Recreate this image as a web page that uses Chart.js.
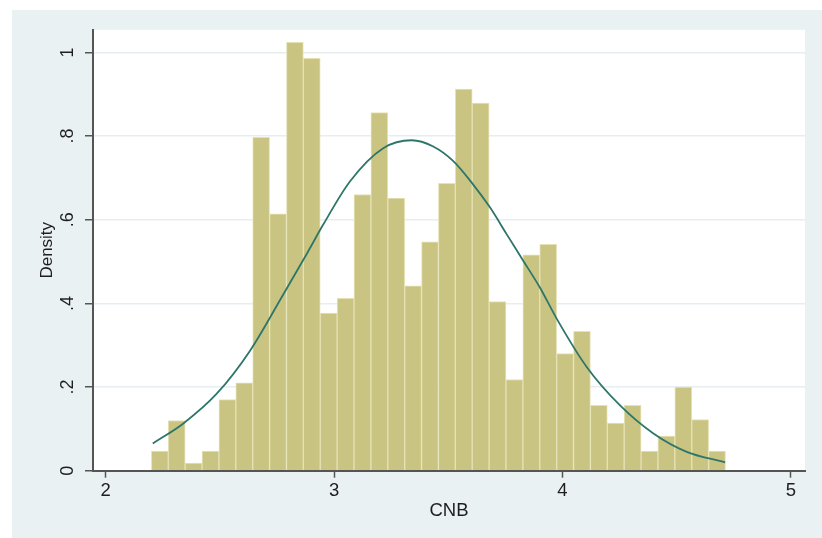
<!DOCTYPE html>
<html>
<head>
<meta charset="utf-8">
<script src="https://cdn.jsdelivr.net/npm/chart.js@4"></script>
<style>
    body { margin: 0; background: #ffffff; }
    #wrap { position: absolute; left: 12px; top: 10px; width: 810px; height: 528px; background: #eaf1f3; }
</style>
</head>
<body>
<div id="wrap"><canvas id="hist-chart" width="810" height="528"></canvas></div>
<script>
//Histogram data (density per bin)
const binStart = 2.2;
const binWidth = 0.07393;
const densities = [0.047, 0.120, 0.018, 0.047, 0.170, 0.210, 0.797, 0.614, 1.024, 0.986,
                   0.377, 0.412, 0.660, 0.856, 0.652, 0.442, 0.547, 0.687, 0.912, 0.879,
                   0.404, 0.218, 0.516, 0.541, 0.280, 0.333, 0.156, 0.114, 0.156, 0.047,
                   0.083, 0.200, 0.122, 0.047];

//Normal density curve
const curveX = [2.206, 2.34, 2.486, 2.632, 2.778, 2.88, 2.953, 3.07, 3.215, 3.34, 3.434, 3.522,
                3.609, 3.683, 3.756, 3.828, 3.901, 3.975, 4.106, 4.252, 4.398, 4.544, 4.712];
const curveY = [0.065, 0.113, 0.184, 0.287, 0.422, 0.518, 0.589, 0.692, 0.771, 0.790, 0.775, 0.740,
                0.684, 0.629, 0.565, 0.502, 0.438, 0.363, 0.248, 0.156, 0.089, 0.045, 0.020];

//Axis ticks
const xTicks = [2, 3, 4, 5];
const yTicks = [0, 0.2, 0.4, 0.6, 0.8, 1];
const yTickLabels = ['0', '.2', '.4', '.6', '.8', '1'];

const FONT = 'Liberation Sans, Arial, Helvetica, sans-serif';

//White plot region
const plotBg = {
    id: 'plotBg',
    beforeDraw(chart) {
        const a = chart.chartArea;
        chart.ctx.save();
        chart.ctx.fillStyle = '#ffffff';
        chart.ctx.fillRect(a.left, a.top, a.right - a.left, a.bottom - a.top);
        chart.ctx.restore();
    }
};

function createHistogram(){
    let bars = densities.map((d, i) => ({ x: binStart + (i + 0.5) * binWidth, y: d }));
    let curve = curveX.map((x, i) => ({ x: x, y: curveY[i] }));

    let ctx = document.getElementById('hist-chart').getContext('2d');
    new Chart(ctx, {
        type: 'bar',
        data: {
            datasets: [{
                type: 'line',
                data: curve,
                borderColor: '#2e766a',
                borderWidth: 1.8,
                pointRadius: 0,
                cubicInterpolationMode: 'monotone',
                fill: false,
                order: 0
            }, {
                type: 'bar',
                data: bars,
                backgroundColor: '#cac482',
                borderColor: '#e6e2b6',
                borderWidth: 1,
                categoryPercentage: 1,
                barPercentage: 1,
                order: 1
            }]
        },
        options: {
            responsive: false,
            animation: false,
            layout: { padding: { top: 18, right: 17, left: 0, bottom: 0 } },
            plugins: { legend: { display: false }, tooltip: { enabled: false } },
            scales: {
                x: {
                    type: 'linear',
                    min: 1.9444,
                    max: 5.0617,
                    offset: false,
                    afterFit: (s) => { s.height = 67.3; },
                    afterBuildTicks: (s) => { s.ticks = xTicks.map(v => ({ value: v })); },
                    grid: { drawOnChartArea: false, offset: false, tickLength: 7, tickColor: '#555555', tickWidth: 1.5 },
                    border: { color: '#555555', width: 2 },
                    ticks: { color: '#1e1e1e', padding: 2, font: { family: FONT, size: 18.5 }, maxRotation: 0 },
                    title: { display: true, text: 'CNB', color: '#1e1e1e', font: { family: FONT, size: 18.5 }, padding: { top: 0, bottom: 16 } }
                },
                y: {
                    type: 'linear',
                    min: 0,
                    max: 1.054,
                    afterFit: (s) => { s.width = 81; },
                    afterBuildTicks: (s) => { s.ticks = yTicks.map(v => ({ value: v })); },
                    grid: { color: '#e6eef1', lineWidth: 1.5, tickLength: 8, tickColor: '#555555', tickWidth: 1.5 },
                    border: { color: '#555555', width: 2 },
                    ticks: {
                        color: '#1e1e1e',
                        padding: 9,
                        crossAlign: 'center',
                        minRotation: 90,
                        maxRotation: 90,
                        font: { family: FONT, size: 18 },
                        callback: (v) => { let i = yTicks.indexOf(v); return i >= 0 ? yTickLabels[i] : ''; }
                    },
                    title: { display: true, text: 'Density', color: '#1e1e1e', font: { family: FONT, size: 17 }, padding: { top: 25, bottom: 0 } }
                }
            }
        },
        plugins: [plotBg]
    });
}

//Draw on page load
window.addEventListener('DOMContentLoaded', (e)=>{
    createHistogram();
});
</script>
</body>
</html>
